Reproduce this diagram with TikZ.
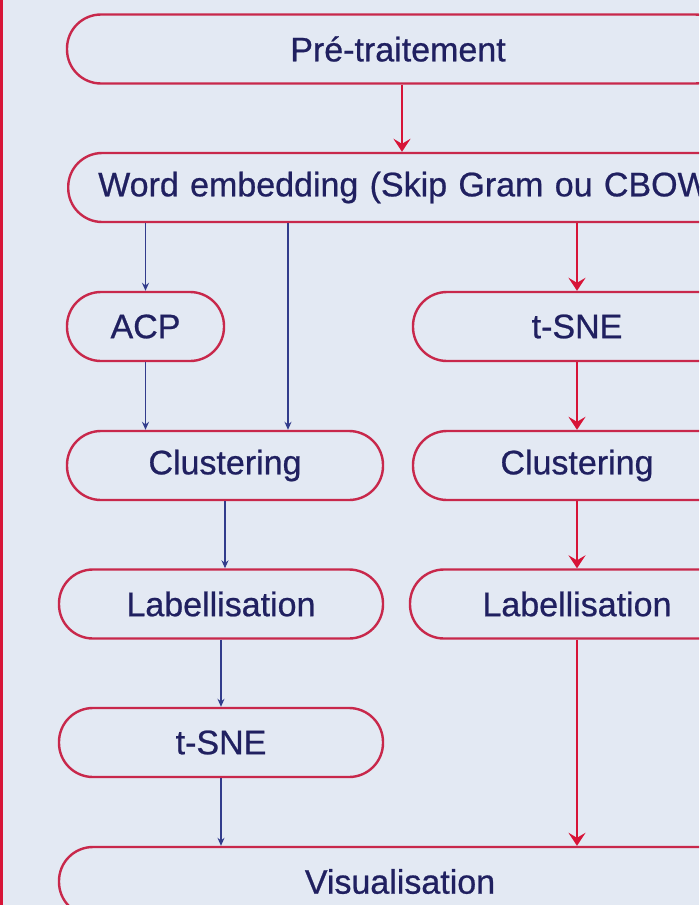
\documentclass[tikz,border=0pt]{standalone}
\usepackage{fontspec}
\newfontfamily\boxfont{Liberation Sans}[FakeBold=0.7]
\usetikzlibrary{arrows.meta,calc}
\definecolor{bg}{RGB}{227,233,243}
\definecolor{boxred}{RGB}{200,40,75}
\definecolor{arrred}{RGB}{215,20,55}
\definecolor{arrblue}{RGB}{50,60,140}
\definecolor{txtnavy}{RGB}{32,32,96}
\tikzset{
  box/.style={draw=boxred, line width=2.4pt, rounded corners=34pt, minimum height=69pt,
    inner sep=0pt, text=txtnavy, font=\boxfont\fontsize{34}{40}\selectfont},
  redarr/.style={draw=arrred, line width=2.6pt, -{Stealth[length=13pt,width=17pt,inset=5pt]}},
  bluearr/.style={draw=arrblue, line width=1.6pt, -{Stealth[length=8pt,width=7pt]}}
}
\begin{document}
\begin{tikzpicture}[x=1pt,y=-1pt]
\useasboundingbox (0,0) rectangle (699,905);
\clip (0,0) rectangle (699,905);
\fill[bg] (0,0) rectangle (699,905);
\fill[arrred] (0,0) rectangle (3,905);
% nodes
\node[box, minimum width=662pt] (pre) at (398,49) {Pré-traitement};
\node[box, minimum width=674pt, anchor=west, text width=614pt, align=left, inner xsep=30pt] (we) at (67,187.5) {\mbox{Word embedding (Skip Gram ou CBOW)}};
\node[box, minimum width=157pt] (acp) at (145.5,326.5) {ACP};
\node[box, minimum width=328pt] (tsneR) at (577,326.5) {t-SNE};
\node[box, minimum width=316pt] (clL) at (225,465.5) {Clustering};
\node[box, minimum width=328pt] (clR) at (577,465.5) {Clustering};
\node[box, minimum width=324pt] (labL) at (221,604) {Labellisation};
\node[box, minimum width=334pt] (labR) at (577,604) {Labellisation};
\node[box, minimum width=324pt] (tsneL) at (221,742.5) {t-SNE};
\node[box, minimum width=682pt] (vis) at (400,881.5) {Visualisation};
\coordinate (c1) at (288,0);
\coordinate (c2) at (402,0);
% connectors
\draw[redarr] (pre.south -| c2) -- (we.north -| c2);
\draw[bluearr] (we.south -| acp.north) -- (acp.north);
\draw[bluearr] (we.south -| c1) -- (clL.north -| c1);
\draw[redarr] (we.south -| tsneR.north) -- (tsneR.north);
\draw[bluearr] (acp.south) -- (clL.north -| acp.south);
\draw[redarr] (tsneR.south) -- (clR.north);
\draw[bluearr] (clL.south) -- (clL.south |- labL.north);
\draw[bluearr] (labL.south) -- (tsneL.north);
\draw[bluearr] (tsneL.south) -- (tsneL.south |- vis.north);
\draw[redarr] (clR.south) -- (labR.north);
\draw[redarr] (labR.south) -- (labR.south |- vis.north);
\end{tikzpicture}
\end{document}
